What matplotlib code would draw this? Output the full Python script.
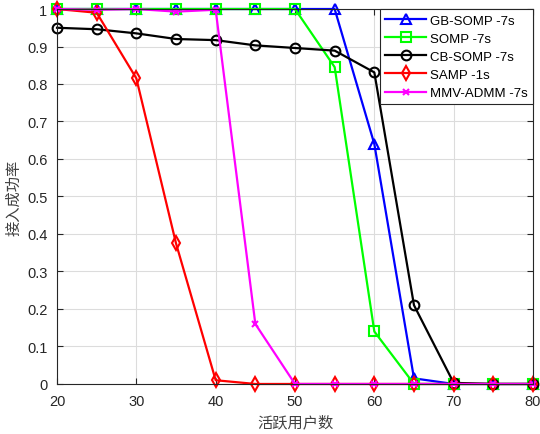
import numpy as np
import matplotlib.pyplot as plt

plt.rcParams['font.family'] = ['Liberation Sans', 'Noto Sans CJK SC', 'DejaVu Sans']

# 活跃用户数
users = [20, 25, 30, 35, 40, 45, 50, 55, 60, 65, 70, 75, 80]

gb_somp = [1, 1, 1, 1, 1, 1, 1, 1, 0.64, 0.015, 0, 0, 0]
somp = [1, 1, 1, 1, 1, 1, 1, 0.845, 0.14, 0, 0, 0, 0]
cb_somp = [0.95, 0.946, 0.935, 0.92, 0.917, 0.903, 0.896, 0.889, 0.831, 0.21, 0.003, 0, 0]
samp = [1.0, 0.99, 0.815, 0.375, 0.01, 0, 0, 0, 0, 0, 0, 0, 0]
mmv_admm = [1, 0.998, 1, 0.993, 0.998, 0.16, 0, 0, 0, 0, 0, 0, 0]

series = [
    ('GB-SOMP -7s', gb_somp, '#0000ff', '^'),
    ('SOMP -7s', somp, '#00ff00', 's'),
    ('CB-SOMP -7s', cb_somp, '#000000', 'o'),
    ('SAMP -1s', samp, '#ff0000', 'd'),
    ('MMV-ADMM -7s', mmv_admm, '#ff00ff', 'x'),
]

fig = plt.figure(figsize=(5.4, 4.35), dpi=100)
ax = fig.add_axes([0.1056, 0.115, 0.8814, 0.862])

for name, vals, c, m in series:
    ax.plot(users, vals, color=c, marker=m, lw=1.6, ms=7 if m != 'x' else 5,
            mfc='none', mew=1.5, label=name, clip_on=False)

ax.set_xlim(20, 80)
ax.set_ylim(0, 1)
ax.set_xticks(np.arange(20, 81, 10))
ax.set_yticks(np.arange(0, 1.01, 0.1))
ax.set_yticklabels(['0', '0.1', '0.2', '0.3', '0.4', '0.5', '0.6', '0.7', '0.8', '0.9', '1'])
ax.grid(True, color='#dcdcdc', lw=0.8)
ax.set_axisbelow(True)
ax.tick_params(direction='in', top=True, right=True, labelsize=10.5, colors='#262626',
               length=4, pad=7)
for s in ax.spines.values():
    s.set_color('#262626')

ax.set_xlabel('活跃用户数', family=['Noto Sans CJK SC'], fontsize=11, color='#404040',
              labelpad=4)
ax.set_ylabel('接入成功率', family=['Noto Sans CJK SC'], fontsize=11, color='#404040',
              labelpad=3)

leg = ax.legend(loc='upper right', fontsize=9.5, fancybox=False, edgecolor='#262626',
                framealpha=1, borderaxespad=0.0, handlelength=3.1, labelspacing=0.45,
                borderpad=0.4, handletextpad=0.3)
leg.get_frame().set_linewidth(0.8)

fig.savefig('out.png', dpi=100)
